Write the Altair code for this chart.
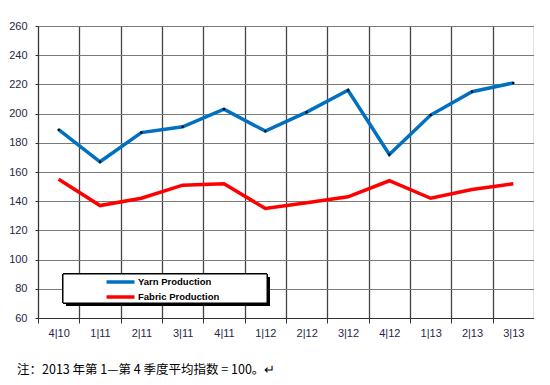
import altair as alt
import pandas as pd

quarters = ["4|10", "1|11", "2|11", "3|11", "4|11", "1|12", "2|12", "3|12", "4|12", "1|13", "2|13", "3|13"]
yarn = [189, 167, 187, 191, 203, 188, 201, 216, 172, 199, 215, 221]
fabric = [155, 137, 142, 151, 152, 135, 139, 143, 154, 142, 148, 152]
series_names = ["Yarn Production", "Fabric Production"]
y_ticks = [60, 80, 100, 120, 140, 160, 180, 200, 220, 240, 260]
note = "注：2013 年第 1—第 4 季度平均指数 = 100。↵"

rows = []
for i, q in enumerate(quarters):
    rows.append({"q": q, "series": series_names[0], "v": yarn[i], "order": i})
    rows.append({"q": q, "series": series_names[1], "v": fabric[i], "order": i})
df = pd.DataFrame(rows)

lab_color = "#26264a"

x_enc = alt.X("q:N", sort=quarters, title=None,
              scale=alt.Scale(paddingInner=0, paddingOuter=0),
              axis=alt.Axis(tickBand="extent", labelAngle=0, labelFont="Liberation Sans",
                            labelFontSize=11, labelColor=lab_color, labelPadding=4,
                            grid=True, gridColor="#444444", gridWidth=1.3,
                            domainColor="#333333", tickColor="#333333", tickSize=5))
y_enc = alt.Y("v:Q", title=None,
              scale=alt.Scale(domain=[60, 260], nice=False, zero=False),
              axis=alt.Axis(values=y_ticks, labelFont="Liberation Sans", labelFontSize=11,
                            labelColor=lab_color, grid=True, gridColor="#7a7a7a", gridWidth=1.2,
                            domainColor="#333333", tickColor="#333333", tickSize=3, labelPadding=8))

color_enc = alt.Color("series:N",
                      scale=alt.Scale(domain=series_names, range=["#0070C0", "#FF0000"]),
                      legend=alt.Legend(title=None, orient="none", legendX=75.5, legendY=249,
                                        symbolType="M-2.8,0L2.8,0", symbolSize=100,
                                        symbolStrokeWidth=3.5,
                                        labelFont="Liberation Sans", labelFontSize=9.5,
                                        labelFontWeight="bold", labelColor="#000000",
                                        labelOffset=10.5, padding=0, rowPadding=1))

shadow = alt.Chart(df).mark_rect(color="#000000").encode(
    x=alt.value(28), x2=alt.value(232), y=alt.value(251), y2=alt.value(280))
box = alt.Chart(df).mark_rect(fill="#ffffff", stroke="#000000", strokeWidth=1).encode(
    x=alt.value(25), x2=alt.value(229), y=alt.value(248), y2=alt.value(277))

lines = alt.Chart(df).mark_line(strokeWidth=3.5).encode(
    x=x_enc, y=y_enc, color=color_enc, order="order:Q")
dots = alt.Chart(df).transform_filter(alt.datum.series == series_names[0]).mark_point(
    filled=True, color="#000000", size=6, opacity=1).encode(x=x_enc, y=y_enc)

chart = alt.layer(lines, dots, shadow, box).properties(
    width=496, height=292,
    autosize=alt.AutoSizeParams(type="none"),
    padding={"left": 30, "top": 18, "right": 0, "bottom": 62},
    title=alt.TitleParams(note, orient="bottom", anchor="start", frame="group", dx=-21, offset=26,
                          font="Noto Sans CJK SC", fontSize=12.5, fontWeight="normal",
                          color="#000000")
).configure_view(stroke="#666666").configure(background="#ffffff")

chart.save("out.html", embed_options={"renderer": "svg", "actions": False})
